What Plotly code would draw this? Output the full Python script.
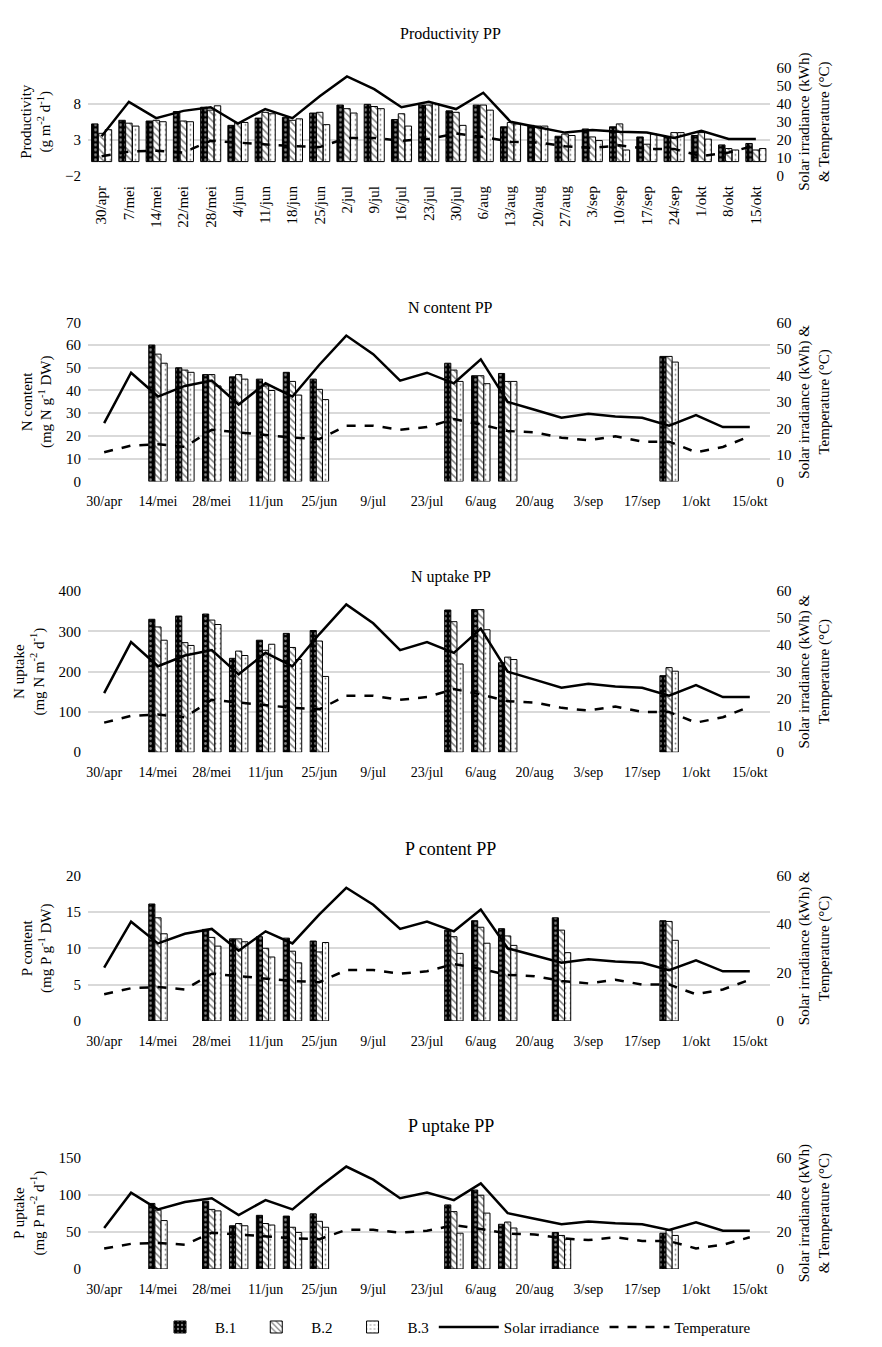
import plotly.graph_objects as go
from plotly.subplots import make_subplots
import pandas as pd

# ---------------------------
# Data
# ---------------------------
week_labels = ["30/apr", "7/mei", "14/mei", "22/mei", "28/mei", "4/jun", "11/jun", "18/jun",
               "25/jun", "2/jul", "9/jul", "16/jul", "23/jul", "30/jul", "6/aug", "13/aug",
               "20/aug", "27/aug", "3/sep", "10/sep", "17/sep", "24/sep", "1/okt", "8/okt", "15/okt"]
week_dates = pd.date_range("2021-04-30", periods=25, freq="7D")

solar = [22, 41, 32, 36, 38, 29, 37, 32, 44, 55, 48, 38, 41, 37, 46, 30, 27, 24,
         25.5, 24.5, 24, 21, 25, 20.5, 20.5]
temperature = [11, 13.5, 14, 13, 19.5, 18.5, 17.5, 16.5, 16, 21, 21, 19.5, 20.5, 23.5,
               21.5, 19, 18.5, 16.5, 15.5, 17, 15, 15, 11, 13, 17]

prod_b1 = [5.2, 5.7, 5.6, 6.9, 7.5, 5.0, 6.0, 6.1, 6.7, 7.8, 7.9, 5.8, 7.8, 7.0, 7.8, 4.8,
           5.0, 3.5, 4.5, 4.8, 3.4, 3.4, 3.6, 2.3, 2.5]
prod_b2 = [3.9, 5.3, 5.7, 5.6, 7.1, 5.4, 6.8, 5.7, 6.8, 7.3, 7.6, 6.6, 7.8, 6.8, 7.8, 5.4,
           4.9, 3.8, 3.4, 5.2, 2.4, 4.0, 4.0, 1.8, 1.6]
prod_b3 = [4.4, 4.9, 5.5, 5.5, 7.7, 5.4, 6.6, 5.9, 5.1, 6.7, 7.3, 4.9, 8.0, 5.0, 7.1, 5.2,
           4.9, 3.6, 2.9, 1.6, 3.8, 4.0, 3.1, 1.6, 1.8]

# sampling dates for the tissue analyses
n_dates = ["2021-05-14", "2021-05-21", "2021-05-28", "2021-06-04", "2021-06-11", "2021-06-18",
           "2021-06-25", "2021-07-30", "2021-08-06", "2021-08-13", "2021-09-24"]
p_dates = ["2021-05-14", "2021-05-28", "2021-06-04", "2021-06-11", "2021-06-18", "2021-06-25",
           "2021-07-30", "2021-08-06", "2021-08-13", "2021-08-27", "2021-09-24"]

ncont_b1 = [60, 50, 47, 46, 45, 48, 45, 52, 46.5, 47.5, 55]
ncont_b2 = [56, 49, 47, 47, 42, 44, 40.5, 49, 46.5, 44, 55]
ncont_b3 = [52, 48, 42, 45, 40, 38, 36, 44, 43, 44, 52.5]

nupt_b1 = [330, 338, 343, 233, 278, 295, 302, 353, 354, 222, 190]
nupt_b2 = [311, 272, 328, 251, 253, 260, 276, 324, 354, 236, 210]
nupt_b3 = [278, 265, 317, 240, 268, 230, 188, 219, 304, 230, 201]

pcont_b1 = [16.1, 12.6, 11.3, 11.6, 11.4, 11.0, 12.5, 13.8, 12.7, 14.2, 13.8]
pcont_b2 = [14.2, 11.5, 11.3, 10.0, 9.6, 9.5, 11.6, 12.9, 11.7, 12.5, 13.7]
pcont_b3 = [12.0, 10.3, 10.9, 8.8, 8.0, 10.8, 9.3, 10.7, 10.4, 9.4, 11.1]

pupt_b1 = [88, 91, 58, 72, 71, 74, 86, 106, 60, 49, 48]
pupt_b2 = [79, 80, 61, 61, 56, 64, 77, 99, 63, 45, 52]
pupt_b3 = [65, 78, 58, 59, 49, 56, 48, 75, 55, 40, 45]

tick_labels = ["30/apr", "14/mei", "28/mei", "11/jun", "25/jun", "9/jul", "23/jul",
               "6/aug", "20/aug", "3/sep", "17/sep", "1/okt", "15/okt"]
tick_dates = pd.date_range("2021-04-30", periods=13, freq="14D")
prod_ticks = [-2, 3, 8]

# ---------------------------
# Figure
# ---------------------------
FONT = "Liberation Serif"
DAY = 86400000
fig = make_subplots(rows=5, cols=1, specs=[[{"secondary_y": True}]] * 5)

bar_styles = [
    dict(name="B.1", color="black", shape=".", fg="white", solidity=0.25),
    dict(name="B.2", color="white", shape="\\", fg="black", solidity=0.3),
    dict(name="B.3", color="white", shape=".", fg="black", solidity=0.1),
]

panels = [
    (week_labels, [prod_b1, prod_b2, prod_b3]),
    (n_dates, [ncont_b1, ncont_b2, ncont_b3]),
    (n_dates, [nupt_b1, nupt_b2, nupt_b3]),
    (p_dates, [pcont_b1, pcont_b2, pcont_b3]),
    (p_dates, [pupt_b1, pupt_b2, pupt_b3]),
]

for i, (xs, series) in enumerate(panels):
    row = i + 1
    for j, (vals, st) in enumerate(zip(series, bar_styles)):
        kw = {}
        if row > 1:
            kw = dict(width=1.6 * DAY, offset=(-2.4 + 1.6 * j) * DAY)
        fig.add_trace(go.Bar(
            x=xs, y=vals, name=st["name"], legendgroup=st["name"], showlegend=(row == 5),
            marker=dict(color=st["color"], line=dict(color="black", width=1),
                        pattern=dict(shape=st["shape"], fgcolor=st["fg"], bgcolor=st["color"],
                                     solidity=st["solidity"], size=5)),
            **kw), row=row, col=1, secondary_y=False)
    line_x = week_labels if row == 1 else week_dates
    fig.add_trace(go.Scatter(x=line_x, y=solar, mode="lines", name="Solar irradiance",
                             line=dict(color="black", width=2.5), showlegend=(row == 5)),
                  row=row, col=1, secondary_y=True)
    fig.add_trace(go.Scatter(x=line_x, y=temperature, mode="lines", name="Temperature",
                             line=dict(color="black", width=2.5, dash="dash"), showlegend=(row == 5)),
                  row=row, col=1, secondary_y=True)

fig.update_layout(barmode="group", bargap=0.25, bargroupgap=0.05)

# plot areas in pixel rows of the 1347 px page
H = 1347
areas = [(52, 162), (310, 471), (582, 745), (870, 1017), (1155, 1268)]
titles = ["Productivity PP", "N content PP", "N uptake PP", "P content PP", "P uptake PP"]
title_y = [18, 295, 568, 843, 1123]
left_titles = ["Productivity<br>(g m<sup>-2</sup> d<sup>-1</sup>)",
               "N content<br>(mg N g<sup>-1</sup> DW)",
               "N uptake<br>(mg N m<sup>-2</sup> d<sup>-1</sup>)",
               "P content<br>(mg P g<sup>-1</sup> DW)",
               "P uptake<br>(mg P m<sup>-2</sup> d<sup>-1</sup>)"]
right_titles = ["Solar irradiance (kWh)<br>& Temperature (°C)",
                "Solar irradiance (kWh) &<br>Temperature (°C)",
                "Solar irradiance (kWh) &<br>Temperature (°C)",
                "Solar irradiance (kWh) &<br>Temperature (°C)",
                "Solar irradiance (kWh)<br>& Temperature (°C)"]
left_ranges = [(-2, 13, 5, -2), (0, 70, 10, 0), (0, 400, 100, 0), (0, 20, 5, 0), (0, 150, 50, 0)]
right_dticks = [10, 10, 10, 20, 20]
title_sizes = [16, 16, 16, 18, 18]

for i in range(5):
    row = i + 1
    top, bot = areas[i]
    dom = [1 - bot / H, 1 - top / H]
    lo, hi, dt, t0 = left_ranges[i]
    ykw = dict(tickvals=prod_ticks) if row == 1 else dict(dtick=dt, tick0=t0)
    fig.update_yaxes(row=row, col=1, secondary_y=False, domain=dom, range=[lo, hi],
                     showgrid=True, gridcolor="#d9d9d9", gridwidth=1.5, zeroline=False,
                     title=dict(text=left_titles[i], font=dict(size=15), standoff=10),
                     tickfont=dict(size=15), ticks="", ticklabelstandoff=6, **ykw)
    fig.update_yaxes(row=row, col=1, secondary_y=True, range=[0, 60], dtick=right_dticks[i],
                     showgrid=False, zeroline=False,
                     title=dict(text=right_titles[i], font=dict(size=15), standoff=8),
                     tickfont=dict(size=15), ticks="", ticklabelstandoff=6)
    if row == 1:
        fig.update_xaxes(row=row, col=1, type="category", range=[-0.5, 24.5], tickangle=-90,
                         tickfont=dict(size=15), showline=False, showgrid=False,
                         ticklabelstandoff=6)
    else:
        fig.update_xaxes(row=row, col=1, type="date", range=["2021-04-25 19:00", "2021-10-20 03:00"],
                         tickvals=tick_dates, ticktext=tick_labels, tickangle=0,
                         tickfont=dict(size=14), showline=False, showgrid=False,
                         ticklabelstandoff=10)
    fig.add_annotation(text=titles[i], x=0.5, xref="paper", y=1 - title_y[i] / H, yref="paper",
                       showarrow=False, font=dict(size=title_sizes[i]), yanchor="middle")

fig.update_layout(
    width=882, height=1347,
    margin=dict(l=80, r=77, t=0, b=0),
    plot_bgcolor="white", paper_bgcolor="white",
    font=dict(family=FONT, color="black", size=14),
    legend=dict(orientation="h", x=0.5, xanchor="center", y=1 - 1327 / H, yanchor="middle",
                font=dict(size=15), traceorder="normal", itemwidth=60),
)

fig.write_html("out.html")
